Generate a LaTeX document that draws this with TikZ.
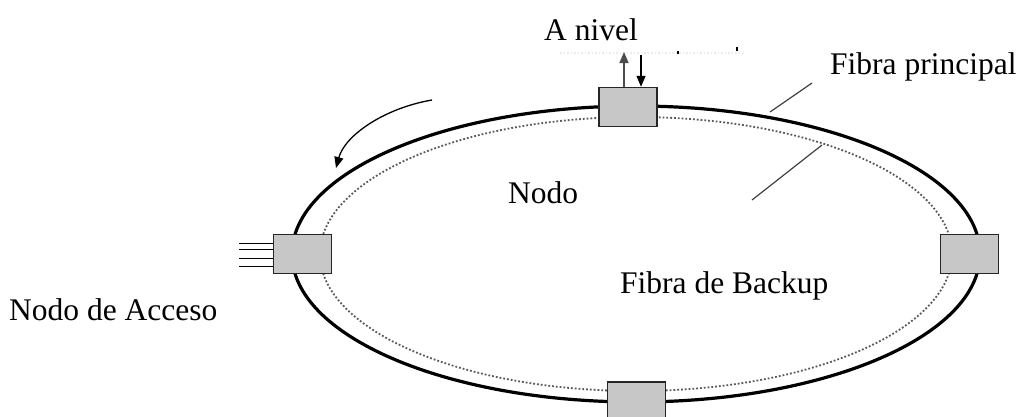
\documentclass[tikz,border=0pt]{standalone}
\usepackage{fontspec}
\setmainfont{Liberation Serif}
\usetikzlibrary{arrows.meta}
\tikzset{
  nodebox/.style={draw=black!85, line width=1.4pt, fill=black!22, minimum width=58pt, minimum height=39pt, inner sep=0pt},
  lbl/.style={font=\fontsize{31.5}{35}\selectfont, inner sep=0pt, anchor=base west},
  leader/.style={draw=black!75, line width=1.2pt},
  feed/.style={line width=1pt},
  tip/.style={-{Triangle[length=11pt,width=9pt]}},
}
\begin{document}
\begin{tikzpicture}[x=1pt,y=-1pt]
\useasboundingbox (0,0) rectangle (1024,416);
% fibres
\draw[black!65, line width=1.8pt, dotted] (636,254) ellipse [x radius=316, y radius=137];
\draw[black, line width=3.2pt] (636,254) ellipse [x radius=344, y radius=148];
% faint line above
\draw[black!8, line width=1.5pt, dotted] (560,53) -- (745,53);
\draw[black, line width=1.8pt] (678,51) -- (678,54);
\draw[black, line width=1.8pt] (737,47) -- (737,51);
% nodes
\node[nodebox] (top) at (628,107) {};
\node[nodebox] (left) at (302.5,254) {};
\node[nodebox] (right) at (969.5,254) {};
\node[nodebox, minimum height=40pt] (bottom) at (636.5,402) {};
% add/drop arrows
\coordinate (upend) at (624,52);
\coordinate (downstart) at (641,55);
\draw[tip, black!70, line width=1.4pt] (top.north -| upend) -- (upend);
\draw[tip, black, line width=1.4pt] (downstart) -- (top.north -| downstart);
% access lines
\foreach \yy [count=\i] in {243,249,258,266} {
  \coordinate (a\i) at (239,\yy);
  \draw[feed] (a\i) -- (left.west |- a\i);
}
% direction arrow
\coordinate (cs) at (432,100);
\coordinate (ce) at (336,168);
\draw[tip, line width=1.3pt] (cs) .. controls (385,108) and (345,135) .. (ce);
% labels
\node[lbl] (anivel) at (544,40) {A nivel};
\node[lbl] (fprin) at (830,74) {Fibra principal};
\node[lbl] (nodo) at (508,203) {Nodo};
\node[lbl] (fback) at (620,293) {Fibra de Backup};
\node[lbl] (nacc) at (9,320) {Nodo de Acceso};
% leaders
\coordinate (l1a) at (812,83);
\coordinate (l1b) at (770,112);
\coordinate (l2a) at (822,145);
\coordinate (l2b) at (752,200);
\draw[leader] (l1a) -- (l1b);
\draw[leader] (l2a) -- (l2b);
\end{tikzpicture}
\end{document}
